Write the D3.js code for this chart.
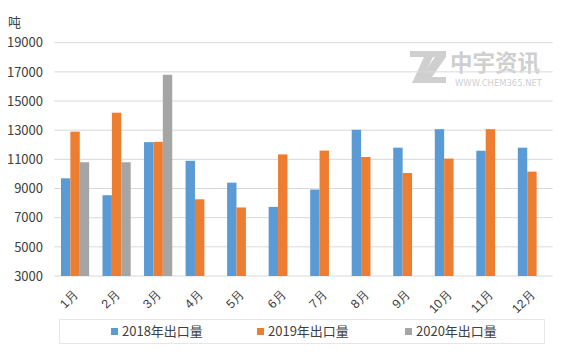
<!DOCTYPE html>
<html><head><meta charset="utf-8">
<script src="https://cdn.jsdelivr.net/npm/d3@7"></script>
<style>
body{margin:0;background:#fff;}
svg{display:block;font-family:"Noto Sans CJK SC","Noto Sans",sans-serif;}
</style></head>
<body><svg id="c" width="567" height="359"></svg>
<script>
const months = ["1月","2月","3月","4月","5月","6月","7月","8月","9月","10月","11月","12月"];
const seriesNames = ["2018年出口量","2019年出口量","2020年出口量"];
const v2018 = [9700,8540,12180,10900,9400,7740,8930,13030,11800,13070,11590,11800];
const v2019 = [12900,14200,12200,8260,7700,11340,11600,11160,10060,11050,13070,10160];
const v2020 = [10800,10800,16800,null,null,null,null,null,null,null,null,null];
const yTicks = [3000,5000,7000,9000,11000,13000,15000,17000,19000];
const colors = ["#5B9BD5","#ED7D31","#A5A5A5"];
const unitLabel = "吨";

const svg = d3.select("#c");
const L=54.3, R=552.7, T=42.7, B=276;
const y = d3.scaleLinear().domain([3000,19000]).range([B,T]);
const x = d3.scaleBand().domain(months).range([L,R]).padding(0);
const bw = x.bandwidth();
const w = bw/(3+1.42);
const x1 = d3.scaleBand().domain([0,1,2]).range([(bw-3*w)/2,(bw+3*w)/2]).padding(0);

// watermark
const wm = svg.append("g").attr("fill","#cfcfcf");
wm.append("path").attr("d","M410,51 L433,51 L433,57 L420,83 L412,83 L424,57 L410,57 Z");
wm.append("path").attr("d","M427,51 L446,51 L446,57 L432,77 L446,77 L446,83 L420,83 L420,78 L435,57 L427,57 Z");
wm.append("text").attr("x",450).attr("y",70.5).attr("font-size",23).attr("font-weight","bold")
  .attr("textLength",90).attr("lengthAdjust","spacingAndGlyphs").text("中宇资讯");
wm.append("text").attr("x",455).attr("y",86).attr("font-size",8).attr("font-family","DejaVu Sans")
  .attr("textLength",87).attr("lengthAdjust","spacingAndGlyphs").text("WWW.CHEM365.NET");

// grid
svg.append("g").selectAll("line").data(yTicks).join("line")
  .attr("x1",L).attr("x2",R).attr("y1",d=>y(d)).attr("y2",d=>y(d))
  .attr("stroke","#d9d9d9").attr("stroke-width",1);

// y axis labels
const yAxis = d3.axisLeft(y).tickValues(yTicks).tickSize(0).tickPadding(0).tickFormat(d3.format("d"));
const ya = svg.append("g").attr("transform",`translate(43,0)`).call(yAxis);
ya.select(".domain").remove();
ya.selectAll("text").attr("font-size",13).attr("fill","#404040").attr("font-family","Noto Sans CJK SC");

svg.append("text").attr("x",8).attr("y",27).attr("font-size",13).attr("fill","#404040").text(unitLabel);

// bars
const data = [v2018,v2019,v2020];
data.forEach((vals,si)=>{
  svg.append("g").selectAll("rect").data(months.map((m,i)=>({m,v:vals[i]})).filter(d=>d.v!=null))
   .join("rect")
   .attr("x",d=>x(d.m)+x1(si)).attr("width",x1.bandwidth())
   .attr("y",d=>y(d.v)).attr("height",d=>B-y(d.v))
   .attr("fill",colors[si]);
});

// x axis
const xAxis = d3.axisBottom(x).tickSize(0).tickPadding(0);
const xa = svg.append("g").attr("transform",`translate(0,${B})`).call(xAxis);
xa.select(".domain").remove();
xa.selectAll("text").attr("font-size",12.5).attr("fill","#404040")
  .attr("text-anchor","end").attr("dy","0.35em")
  .attr("transform","translate(1,16) rotate(-45)");

// legend
svg.append("rect").attr("x",59.5).attr("y",319.5).attr("width",485).attr("height",24)
  .attr("fill","none").attr("stroke","#e6e6e6");
const lx = [111,257,405];
const lg = svg.append("g").selectAll("g").data(seriesNames).join("g")
  .attr("transform",(d,i)=>`translate(${lx[i]},331.5)`);
lg.append("rect").attr("x",0).attr("y",-3.5).attr("width",7).attr("height",7).attr("fill",(d,i)=>colors[i]);
lg.append("text").attr("x",11).attr("y",0).attr("dy","0.36em").attr("font-size",13).attr("fill","#404040").text(d=>d);
</script></body></html>
